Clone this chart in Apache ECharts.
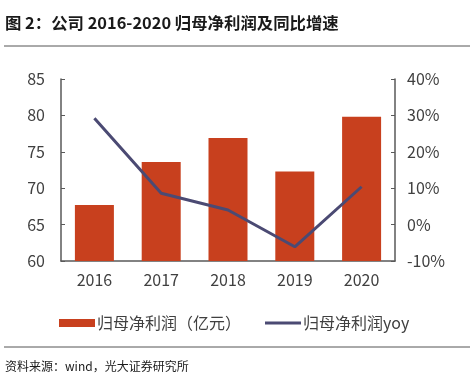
<!DOCTYPE html>
<html><head><meta charset="utf-8">
<script src="https://cdn.jsdelivr.net/npm/echarts@6/dist/echarts.min.js"></script>
<style>html,body{margin:0;padding:0;background:#fff}#c{width:474px;height:382px}</style>
</head><body><div id="c"></div>
<script>
const years = ['2016','2017','2018','2019','2020'];
const profit = [67.7, 73.6, 76.9, 72.3, 79.8];
const yoy = [29.2, 8.6, 4.0, -6.1, 10.4];
const leftTicks = [60, 85, 5];
const rightTicks = [-10, 40, 10];

const F = '"Noto Sans CJK SC", "Noto Sans", sans-serif';
const chart = echarts.init(document.getElementById('c'));
chart.setOption({
  backgroundColor: '#fff',
  animation: false,
  textStyle: {fontFamily: F},
  graphic: [
    {type:'text', left: 5, top: 15, style:{text:'图 2：公司 2016-2020 归母净利润及同比增速', font:'bold 16.4px '+F, fill:'#1a1a1a'}},
    {type:'line', shape:{x1:4,y1:46,x2:470,y2:46}, style:{stroke:'#555', lineWidth:1}},
    {type:'line', shape:{x1:4,y1:347,x2:470,y2:347}, style:{stroke:'#555', lineWidth:1}},
    {type:'text', left: 5, top: 360, style:{text:'资料来源：wind，光大证券研究所', font:'12px '+F, fill:'#1a1a1a'}}
  ],
  legend: {
    top: 310, left: 54, itemGap: 24, itemWidth: 36, itemHeight: 8,
    textStyle: {fontSize: 16, color: '#404040', fontFamily: F, padding:[0,0,0,-3]},
    data: [
      {name:'归母净利润（亿元）', icon:'rect'},
      {name:'归母净利润yoy', icon:'path://M0,0H120V10H0Z'}
    ]
  },
  grid: {left: 61, right: 79, top: 79, bottom: 121},
  xAxis: {
    type:'category', data: years,
    axisLine:{onZero:false, lineStyle:{color:'#595959', width:1.5}},
    axisTick:{inside:true, length:4, lineStyle:{color:'#595959'}},
    axisLabel:{fontSize:16, color:'#404040', margin:11}
  },
  yAxis: [
    {type:'value', min:leftTicks[0], max:leftTicks[1], interval:leftTicks[2],
     axisLine:{show:true, lineStyle:{color:'#595959', width:1.5}},
     axisTick:{show:true, inside:true, length:4, lineStyle:{color:'#595959'}},
     splitLine:{show:false},
     axisLabel:{fontSize:16, color:'#404040', margin:16}},
    {type:'value', min:rightTicks[0], max:rightTicks[1], interval:rightTicks[2],
     axisLine:{show:true, lineStyle:{color:'#595959', width:1.5}},
     axisTick:{show:true, inside:true, length:4, lineStyle:{color:'#595959'}},
     splitLine:{show:false},
     axisLabel:{fontSize:16, color:'#404040', margin:12, formatter: v => v + '%'}}
  ],
  series: [
    {name:'归母净利润（亿元）', type:'bar', data: profit, barWidth: 39, itemStyle:{color:'#C8401E'}},
    {name:'归母净利润yoy', type:'line', yAxisIndex:1, data: yoy, symbol:'none',
     lineStyle:{color:'#4B4A73', width:3}, itemStyle:{color:'#4B4A73'}}
  ]
});
</script></body></html>
